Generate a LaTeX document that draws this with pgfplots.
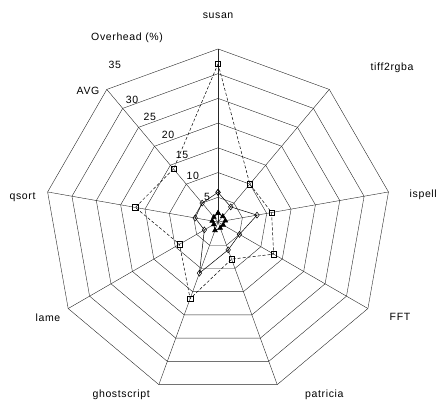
\documentclass[border=0pt]{standalone}
\usepackage{fontspec}
\setmainfont{Liberation Sans}[LetterSpace=6]
\usepackage{pgfplots}
\usepackage{pgfplotstable}
\pgfplotsset{compat=1.18}

% angle (deg, polar) and value (%)
\pgfplotstableread{
ang r
90 32
50 10
10 11
-30 13
-70 8
-110 16.5
-150 9
-190 17
-230 14
90 32
}\seriesA
\pgfplotstableread{
ang r
90 6
50 4
10 8
-30 5
-70 6
-110 11
-150 3.2
-190 4.7
-230 5
90 6
}\seriesB
\pgfplotstableread{
ang r
90 1.8
50 1.5
10 1.5
-30 1.2
-70 1.3
-110 1.8
-150 1.0
-190 1.2
-230 1.3
90 1.8
}\seriesC

\begin{document}
\begin{tikzpicture}
\begin{axis}[
  x=4.94pt, y=4.94pt,
  xmin=-44.1, xmax=45.5, ymin=-37, ymax=44.9,
  hide axis, clip=false,
  every axis plot/.append style={data cs=polar},
  gridl/.style={black!85, line width=0.4pt, no marks, forget plot},
  font=\fontsize{10.5}{12}\selectfont,
]
\pgfplotsinvokeforeach{5,10,15,20,25,30,35}{
  \addplot[gridl] coordinates {(90,#1) (50,#1) (10,#1) (-30,#1) (-70,#1) (-110,#1) (-150,#1) (-190,#1) (-230,#1) (90,#1)};
}
\pgfplotsinvokeforeach{90,50,10,-30,-70,-110,-150,-190,-230}{
  \addplot[gridl] coordinates {(#1,0) (#1,35)};
}
\addplot[black, line width=0.5pt, dash pattern=on 3pt off 2pt, mark=square, mark size=2.7pt,
  mark options={solid, fill=white}] table[x=ang, y=r] {\seriesA};
\addplot[black, line width=0.5pt, mark=diamond, mark size=3pt,
  mark options={solid, fill=white}] table[x=ang, y=r] {\seriesB};
\addplot[black, line width=0.7pt, mark=triangle*, mark size=2.6pt,
  mark options={solid, fill=black}] table[x=ang, y=r] {\seriesC};

\node at (axis cs:0,41.7) {susan};
\node at (axis cs:-18.4,37.2) {Overhead (\%)};
\node at (axis cs:35.2,31.2) {tiff2rgba};
\node at (axis cs:41.5,5.5) {ispell};
\node at (axis cs:36.8,-19.2) {FFT};
\node at (axis cs:21.5,-35) {patricia};
\node at (axis cs:-19.6,-35) {ghostscript};
\node at (axis cs:-34.4,-19.4) {lame};
\node[anchor=east] at (axis cs:-36.2,5.1) {qsort};
\node at (axis cs:-26.3,26.5) {AVG};
\node at (axis cs:-20.9,31.8) {35};
\node at (axis cs:-17.4,24.7) {30};
\node at (axis cs:-13.8,21.3) {25};
\node at (axis cs:-10.1,17.6) {20};
\node at (axis cs:-7.3,13.6) {15};
\node at (axis cs:-5.1,9.3) {10};
\node at (axis cs:-2.2,5.1) {5};
\coordinate (ll) at (axis cs:-44.1,-37);
\coordinate (ur) at (axis cs:45.5,44.9);
\end{axis}
\pgfresetboundingbox
\path[use as bounding box] (ll) rectangle (ur);
\end{tikzpicture}
\end{document}
